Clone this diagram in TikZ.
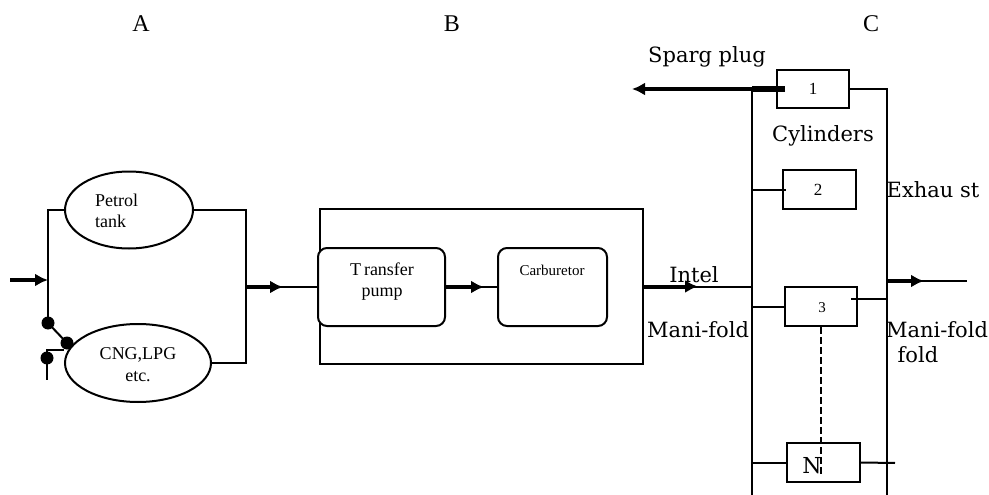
\documentclass[tikz,border=0pt]{standalone}
\usepackage{fontspec}
\setmainfont{DejaVu Serif}
\newfontfamily\lib{Liberation Serif}
\usetikzlibrary{shapes.geometric,arrows.meta}
\tikzset{
  ln/.style={line width=2pt},
  thickarrow/.style={line width=4pt,-{Latex[length=13pt,width=13pt]}},
  ell/.style={ellipse,draw,line width=2pt,inner sep=0pt},
  box/.style={rectangle,draw,line width=2pt,inner sep=0pt},
  rbox/.style={rectangle,draw,line width=2pt,rounded corners=9pt,inner sep=0pt},
  big/.style={font=\fontsize{21}{24}\selectfont,inner sep=0pt,anchor=base},
  sm/.style={font=\lib\fontsize{18}{20}\selectfont,inner sep=0pt,anchor=base},
  tiny/.style={font=\lib\fontsize{15}{17}\selectfont,inner sep=0pt,anchor=base},
  hdr/.style={font=\lib\fontsize{24}{26}\selectfont,inner sep=0pt,anchor=base},
  dotnode/.style={circle,fill=black,inner sep=0pt,minimum size=13pt}
}
\begin{document}
\begin{tikzpicture}[x=1pt,y=-1pt]
\useasboundingbox (0,0) rectangle (989,495);

% headers
\node[hdr] (hA) at (141,32) {A};
\node[hdr] (hB) at (452,32) {B};
\node[hdr] (hC) at (871,32) {C};

% ---------- Section A ----------
\node[ell,minimum width=128pt,minimum height=77pt] (tank) at (129,210) {};
\node[sm,anchor=base west] (tankt1) at (95,206) {Petrol};
\node[sm,anchor=base west] (tankt2) at (95,227) {tank};
\node[ell,minimum width=146pt,minimum height=78pt] (cng) at (138,363) {};
\node[sm] (cngt1) at (138,359) {CNG,LPG};
\node[sm] (cngt2) at (138,381) {etc.};

\node[dotnode] (sw1) at (48,323) {};
\node[dotnode] (sw2) at (67,343) {};
\node[dotnode] (sw3) at (47,358) {};
\coordinate (inA) at (10,280);
\coordinate (swend) at (47,380);
\coordinate (swtap) at (64,350);
\coordinate (jr) at (246,287);

\draw[ln] (tank.west) -| (sw1.center);
\draw[ln] (sw1.center) -- (sw2.center);
\draw[ln] (sw3.center) -- (swend);
\draw[ln] (sw3.center) |- (swtap);
\draw[thickarrow] (inA) -- (inA -| sw1);
\draw[ln] (tank.east) -| (jr) |- (cng.east);

% ---------- Section B ----------
\node[box,minimum width=323pt,minimum height=155pt] (boxB) at (481.5,286.5) {};
\node[rbox,minimum width=127pt,minimum height=78pt,fill=white] (pump) at (381.5,287) {};
\node[sm] (pumpt1) at (382,275) {T\,ransfer};
\node[sm] (pumpt2) at (382,296) {pump};
\node[rbox,minimum width=109pt,minimum height=78pt] (carb) at (552.5,287) {};
\node[tiny] (carbt) at (552,275) {Carburetor};

\draw[ln] (jr) -- (pump.west);
\draw[thickarrow] (jr) -- ++(37,0);
\draw[ln] (pump.east) -- (carb.west);
\draw[thickarrow] (pump.east) -- ++(38,0);

% ---------- Section C ----------
\coordinate (mlt) at (752,89);
\coordinate (mlb) at (752,495);
\coordinate (mrb) at (887,495);
\draw[ln] (mlt) -- (mlb);

\node[box,minimum width=72pt,minimum height=38pt] (c1) at (813,89) {};
\node[sm,font=\lib\fontsize{17}{19}\selectfont] (c1t) at (813,95) {1};
\node[box,minimum width=73pt,minimum height=39pt] (c2) at (819.5,189.5) {};
\node[sm,font=\lib\fontsize{17}{19}\selectfont] (c2t) at (818,195) {2};
\node[box,minimum width=72pt,minimum height=39pt] (c3) at (821,306.5) {};
\node[tiny] (c3t) at (822,312) {3};
\node[box,minimum width=73pt,minimum height=39pt] (cN) at (823.5,462.5) {};
\node[big,font=\fontsize{22}{24}\selectfont] (cNt) at (812,473) {N};

\coordinate (spk) at (632,89);
\draw[line width=6pt] ([xshift=9pt]c1.west) -- (mlt);
\draw[thickarrow] ([xshift=9pt]c1.west) -- (spk);
\draw[ln] (c1.east) -| (mrb);

\draw[ln] (mlt |- c2.west) -- ([xshift=4pt]c2.west);
\draw[ln] (mlt |- c3.west) -- (c3.west);
\coordinate (c3r) at (851,299);
\draw[ln] (c3r) -- (c3r -| mrb);
\draw[ln] (mlt |- cN.west) -- (cN.west);
\coordinate (cNr) at (895,463);
\draw[ln] (cN.east) -- (cNr);
\coordinate (dashend) at (823,477);
\draw[line width=1.5pt,dash pattern=on 7pt off 3pt] (c3.south) -- (c3.south |- dashend);

% B output into intake manifold
\draw[ln] (boxB.east) -- (mlt |- boxB.east);
\draw[thickarrow] (boxB.east) -- ++(54,0);

% exhaust
\coordinate (exs) at (887,281);
\coordinate (exe) at (967,281);
\draw[ln] (exs) -- (exe);
\draw[thickarrow] (exs) -- ++(37,0);

% labels
\node[big] (lspk) at (707,63) {Sparg plug};
\node[big] (lcyl) at (823,142) {Cylinders};
\node[big] (lexh) at (933,197) {Exhau st};
\node[big] (lint) at (694,282) {Intel};
\node[big] (lman1) at (698,337) {Mani-fold};
\node[big] (lman2) at (937,337) {Mani-fold};
\node[big] (lfold) at (918,362) {fold};
\end{tikzpicture}
\end{document}
